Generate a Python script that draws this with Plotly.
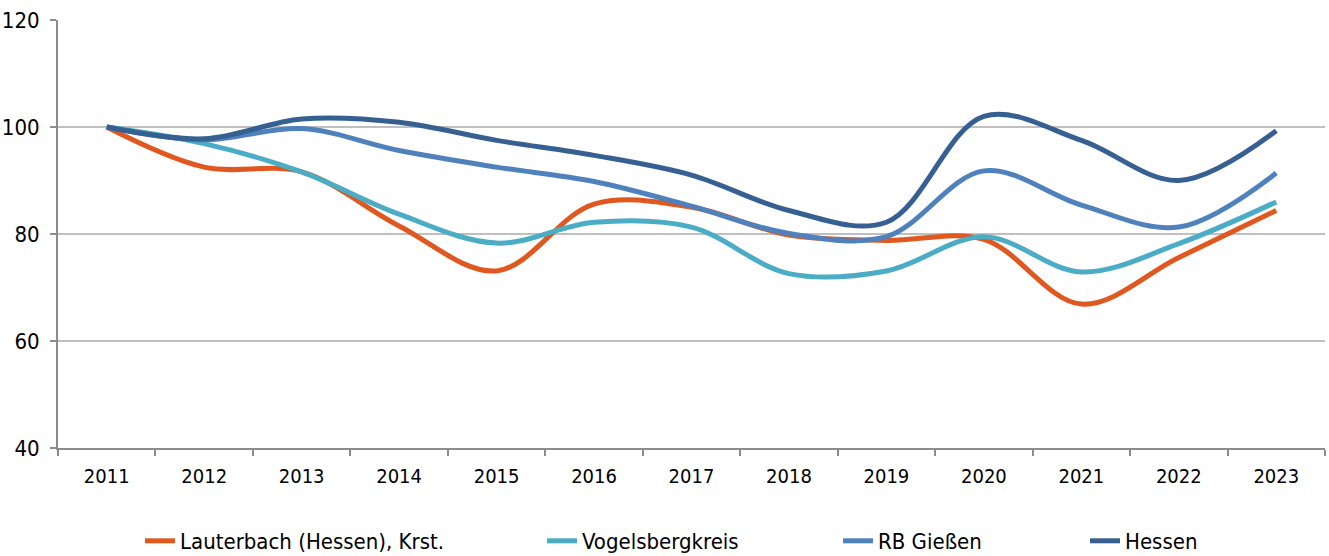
import plotly.graph_objects as go

years = ["2011", "2012", "2013", "2014", "2015", "2016", "2017",
         "2018", "2019", "2020", "2021", "2022", "2023"]

lauterbach = [100, 92.5, 91.6, 81.5, 73.1, 85.6, 85.0, 79.8, 78.8, 79.0, 66.9, 75.6, 84.4]
vogelsberg = [100, 96.9, 91.6, 83.7, 78.3, 82.2, 81.3, 72.6, 73.1, 79.5, 72.9, 78.2, 86.0]
rb_giessen = [100, 97.6, 99.7, 95.6, 92.5, 89.8, 85.2, 80.1, 79.5, 91.8, 85.4, 81.3, 91.4]
hessen = [100, 97.8, 101.5, 100.9, 97.5, 94.7, 91.0, 84.4, 82.2, 102.0, 97.5, 90.0, 99.3]

series_names = ["Lauterbach (Hessen), Krst.", "Vogelsbergkreis", "RB Gießen", "Hessen"]
series_values = [lauterbach, vogelsberg, rb_giessen, hessen]
colors = ["#E0581F", "#4BACC6", "#4F81BD", "#376092"]

FONT = "Liberation Sans Narrow, Arial Narrow, DejaVu Sans Condensed, sans-serif"
W, H = 1329, 556

# left edge of each legend text, in pixels
legend_text_x = [180, 582, 878, 1125]
legend_ids = ["legend", "legend2", "legend3", "legend4"]

fig = go.Figure()
for name, vals, col, lid in zip(series_names, series_values, colors, legend_ids):
    fig.add_trace(go.Scatter(
        x=years, y=vals, name=name, mode="lines",
        line=dict(color=col, width=5, shape="spline", smoothing=1.0),
        legend=lid,
    ))

layout_legends = {}
for lid, tx in zip(legend_ids, legend_text_x):
    layout_legends[lid] = dict(
        xref="container", yref="container",
        x=(tx - 40) / W, y=1 - 541 / H,
        xanchor="left", yanchor="middle",
        font=dict(family=FONT, size=22, color="#000000"),
        bgcolor="rgba(0,0,0,0)", borderwidth=0,
        itemwidth=30,
    )

fig.update_layout(
    width=W, height=H,
    margin=dict(l=58, r=4, t=20, b=108, autoexpand=False),
    paper_bgcolor="white", plot_bgcolor="white",
    showlegend=True,
    font=dict(family=FONT, size=22, color="#000000"),
    **layout_legends,
)

fig.update_xaxes(
    type="category",
    showgrid=False,
    showline=True, linecolor="#8C8C8C", linewidth=2,
    ticks="outside", tickson="boundaries", ticklen=6, tickwidth=2, tickcolor="#8C8C8C",
    tickfont=dict(family=FONT, size=20, color="#000000"),
    tickangle=0,
    ticklabelstandoff=9,
    range=[-0.5, 12.5],
)

fig.update_yaxes(
    range=[40, 120], dtick=20, tick0=40,
    showgrid=True, gridcolor="#BFBFBF", gridwidth=2,
    showline=True, linecolor="#8C8C8C", linewidth=2,
    ticks="outside", ticklen=6, tickwidth=2, tickcolor="#8C8C8C",
    tickfont=dict(family=FONT, size=22, color="#000000"),
    ticklabelstandoff=6,
    zeroline=False,
)

fig.write_html("out.html")
